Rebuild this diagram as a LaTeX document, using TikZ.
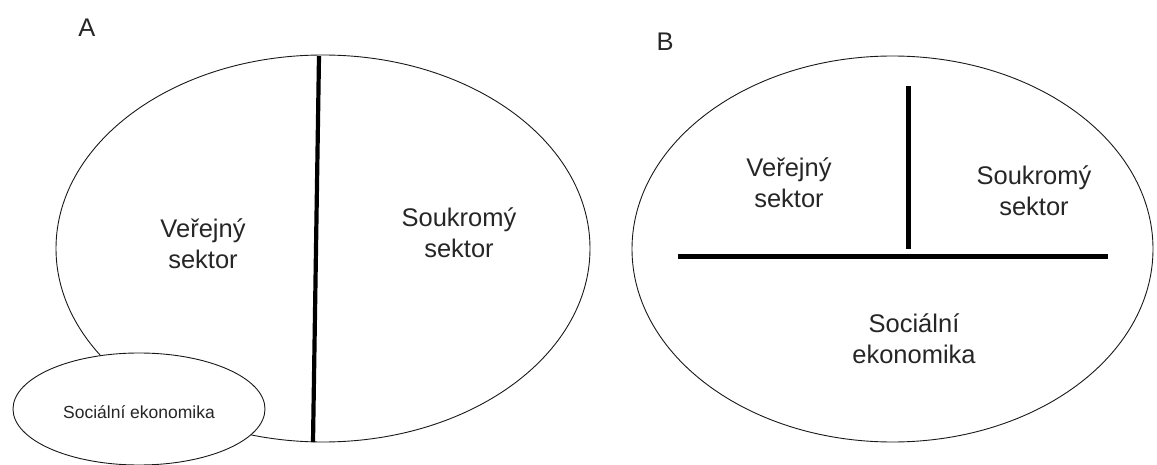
\documentclass[tikz,border=0pt]{standalone}
\usepackage{fontspec}
\setmainfont{Liberation Sans}
\usetikzlibrary{shapes.geometric}
\tikzset{
  region/.style={draw=black!90, line width=0.9pt, ellipse, inner sep=0pt},
  bigtext/.style={align=center, text=black!85, font=\fontsize{25.5}{31}\selectfont, inner sep=0pt},
  smalltext/.style={text=black!85, font=\fontsize{17.5}{21}\selectfont, inner sep=0pt},
  divider/.style={line width=4.2pt, black},
}
\begin{document}
\begin{tikzpicture}[x=1pt, y=-1pt]
\useasboundingbox (0,0) rectangle (1157,465);
% Panel A
\node[bigtext] (labA) at (87,28) {A};
\node[region, minimum width=534pt, minimum height=387pt] (ellA) at (323,248.5) {};
\node[region, fill=white, minimum width=252pt, minimum height=112pt] (ellS) at (139,409) {};
\node[smalltext] (txtS) at (139,412) {Sociální ekonomika};
\node[bigtext] (txtAV) at (203,244) {Veřejný\\sektor};
\node[bigtext] (txtAP) at (459,233) {Soukromý\\sektor};
\coordinate (aTop) at (319,56);
\coordinate (aBot) at (313,442);
\draw[divider] (aTop) -- (aBot);
% Panel B
\node[bigtext] (labB) at (665,42) {B};
\node[region, minimum width=521pt, minimum height=386pt] (ellB) at (892.5,249) {};
\node[bigtext] (txtBV) at (789,183) {Veřejný\\sektor};
\node[bigtext] (txtBP) at (1034,191) {Soukromý\\sektor};
\node[bigtext] (txtBS) at (914,339) {Sociální\\ekonomika};
\coordinate (bVTop) at (908.5,86);
\coordinate (bVBot) at (908.5,249);
\coordinate (bHL) at (678,256.5);
\coordinate (bHR) at (1108,256.5);
\draw[divider] (bVTop) -- (bVBot);
\draw[divider] (bHL) -- (bHR);
\end{tikzpicture}
\end{document}
